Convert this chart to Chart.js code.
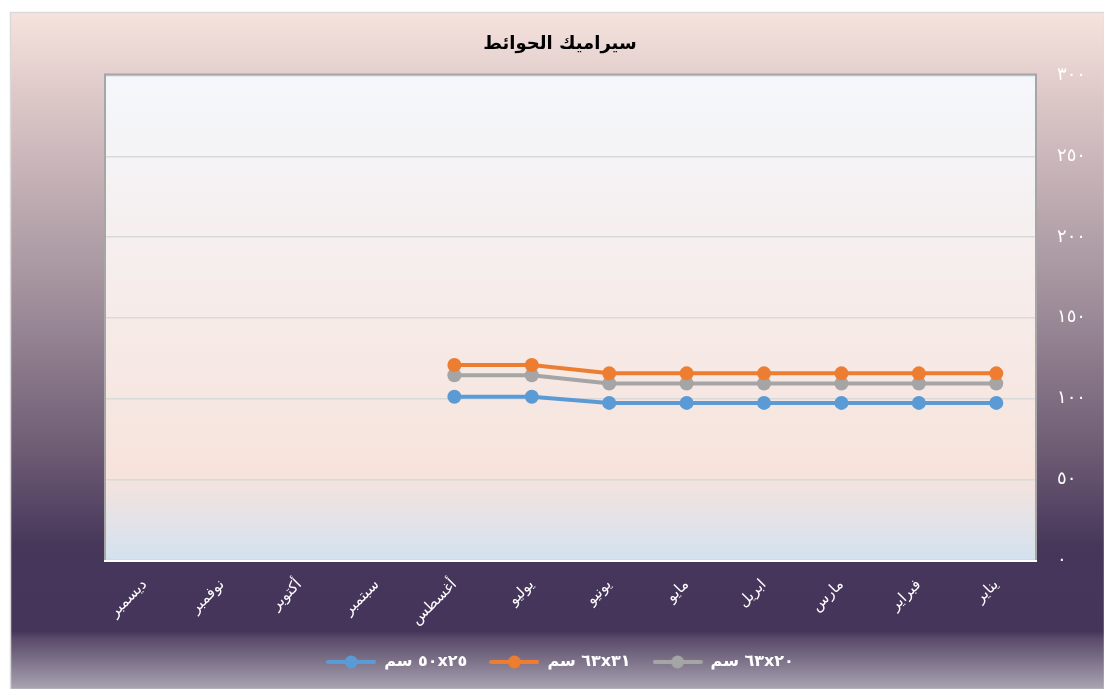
<!DOCTYPE html>
<html lang="ar">
<head>
<meta charset="utf-8">
<script src="https://cdn.jsdelivr.net/npm/chart.js@4.4.1/dist/chart.umd.min.js"></script>
<style>
  html, body { margin: 0; padding: 0; background: #fff; }
  #wrap { position: absolute; left: 0; top: 0; width: 1104px; height: 689px; }
</style>
</head>
<body>
<div id="wrap"><canvas id="ceramicChart"></canvas></div>
<script>
// الأشهر من يناير إلى ديسمبر (المحور معكوس)
const months = ['يناير', 'فبراير', 'مارس', 'ابريل', 'مايو', 'يونيو', 'يوليو', 'أغسطس', 'سبتمبر', 'أكتوبر', 'نوفمبر', 'ديسمبر'];

const size25x50 = [97.3, 97.3, 97.3, 97.3, 97.3, 97.3, 101.1, 101.1, null, null, null, null];
const size31x63 = [115.6, 115.6, 115.6, 115.6, 115.6, 115.6, 120.8, 120.8, null, null, null, null];
const size20x63 = [109.3, 109.3, 109.3, 109.3, 109.3, 109.3, 114.4, 114.4, null, null, null, null];

// \u200E يثبت ترتيب العرض: "سم" ثم الأرقام
const seriesLabels = ['سم\u200E ٥٠x٢٥', 'سم\u200E ٦٣x٣١', 'سم\u200E ٦٣x٢٠'];
const seriesColors = ['#5b9bd5', '#ed7d31', '#a5a5a5'];

const yTickLabels = ['٠', '٥٠', '١٠٠', '١٥٠', '٢٠٠', '٢٥٠', '٣٠٠'];

const arabicFont = "'DejaVu Sans', sans-serif";

// رمز الوسيلة: خط مع دائرة في المنتصف
function legendMarker(color) {
    const c = document.createElement('canvas');
    c.width = 50;
    c.height = 14;
    const g = c.getContext('2d');
    g.strokeStyle = color;
    g.lineWidth = 4;
    g.lineCap = 'round';
    g.beginPath();
    g.moveTo(2, 7);
    g.lineTo(48, 7);
    g.stroke();
    g.fillStyle = color;
    g.beginPath();
    g.arc(25, 7, 6.5, 0, Math.PI * 2);
    g.fill();
    return c;
}

// خلفية المخطط ومنطقة الرسم
const backgroundPlugin = {
    id: 'bgPanels',
    beforeDraw(chart) {
        const { ctx, chartArea: a } = chart;
        ctx.save();

        const ox = 10, oy = 12, ow = 1094, oh = 677;
        const outer = ctx.createLinearGradient(0, oy, 0, oy + oh);
        outer.addColorStop(0, '#f6e3dd');
        outer.addColorStop(0.13, '#dcc7c7');
        outer.addColorStop(0.425, '#a08f9b');
        outer.addColorStop(0.647, '#6e5c74');
        outer.addColorStop(0.79, '#46365a');
        outer.addColorStop(0.915, '#45355a');
        outer.addColorStop(0.925, '#594a69');
        outer.addColorStop(1, '#aaa4b2');
        ctx.fillStyle = outer;
        ctx.fillRect(ox, oy, ow, oh);
        ctx.strokeStyle = '#d9d9d9';
        ctx.lineWidth = 1.5;
        ctx.strokeRect(ox + 0.5, oy + 0.5, ow, oh);

        const inner = ctx.createLinearGradient(0, a.top, 0, a.bottom);
        inner.addColorStop(0, '#f4f7fc');
        inner.addColorStop(0.5, '#f6ebe8');
        inner.addColorStop(0.82, '#f7e3dc');
        inner.addColorStop(1, '#d3e2f0');
        ctx.fillStyle = inner;
        ctx.fillRect(a.left, a.top, a.right - a.left, a.bottom - a.top);
        ctx.restore();
    },
    afterDatasetsDraw(chart) {
        const { ctx, chartArea: a } = chart;
        ctx.save();
        ctx.strokeStyle = '#a6a6a6';
        ctx.lineWidth = 2;
        ctx.beginPath();
        ctx.moveTo(a.left - 1, a.bottom);
        ctx.lineTo(a.left - 1, a.top - 1);
        ctx.lineTo(a.right + 1, a.top - 1);
        ctx.lineTo(a.right + 1, a.bottom);
        ctx.stroke();
        ctx.strokeStyle = '#ffffff';
        ctx.beginPath();
        ctx.moveTo(a.left - 2, a.bottom + 1);
        ctx.lineTo(a.right + 2, a.bottom + 1);
        ctx.stroke();
        ctx.restore();
    }
};

function makeDataset(i, data) {
    return {
        label: seriesLabels[i],
        data: data,
        xAxisID: 'x',
        yAxisID: 'y',
        borderColor: seriesColors[i],
        backgroundColor: seriesColors[i],
        borderWidth: 4,
        pointRadius: 7,
        pointHoverRadius: 7,
        pointBackgroundColor: seriesColors[i],
        pointBorderWidth: 0,
        tension: 0,
        spanGaps: false
    };
}

new Chart(document.getElementById('ceramicChart'), {
    type: 'line',
    data: {
        labels: months,
        datasets: [
            makeDataset(0, size25x50),
            makeDataset(1, size31x63),
            makeDataset(2, size20x63)
        ]
    },
    options: {
        responsive: true,
        maintainAspectRatio: false,
        animation: false,
        layout: {
            padding: { left: 16, right: 0, top: 0, bottom: 9 }
        },
        plugins: {
            title: {
                display: true,
                text: 'سيراميك الحوائط',
                color: '#000',
                font: { family: arabicFont, size: 18, weight: 'bold' },
                padding: { top: 34, bottom: 20 }
            },
            legend: {
                position: 'bottom',
                labels: {
                    color: '#ffffff',
                    font: { family: arabicFont, size: 16, weight: 'bold' },
                    usePointStyle: true,
                    pointStyleWidth: 50,
                    padding: 22,
                    generateLabels(chart) {
                        return chart.data.datasets.map((ds, i) => ({
                            text: ds.label,
                            fontColor: '#ffffff',
                            pointStyle: legendMarker(seriesColors[i]),
                            datasetIndex: i,
                            lineWidth: 0,
                            strokeStyle: 'transparent',
                            fillStyle: 'transparent'
                        }));
                    }
                }
            },
            tooltip: { enabled: false }
        },
        scales: {
            x: {
                reverse: true,
                offset: true,
                grid: { display: false },
                border: { display: false },
                ticks: {
                    color: '#ffffff',
                    font: { family: arabicFont, size: 15 },
                    minRotation: 45,
                    maxRotation: 45,
                    padding: 8
                },
                afterFit(scale) {
                    scale.height = 72;
                }
            },
            y: {
                position: 'right',
                min: 0,
                max: 300,
                grid: { color: '#d9d9d9', lineWidth: 1.5, drawTicks: false },
                border: { display: false },
                ticks: {
                    stepSize: 50,
                    color: '#ffffff',
                    font: { family: arabicFont, size: 18 },
                    padding: 22,
                    callback: (value) => yTickLabels[value / 50]
                },
                afterFit(scale) {
                    scale.width = 69;
                }
            },
            // محور فارغ يحجز الهامش الأيسر
            spacer: {
                axis: 'y',
                position: 'left',
                display: true,
                min: 0,
                max: 1,
                grid: { display: false },
                border: { display: false },
                ticks: { display: false },
                afterFit(scale) {
                    scale.width = 90;
                }
            }
        }
    },
    plugins: [backgroundPlugin]
});
</script>
</body>
</html>
